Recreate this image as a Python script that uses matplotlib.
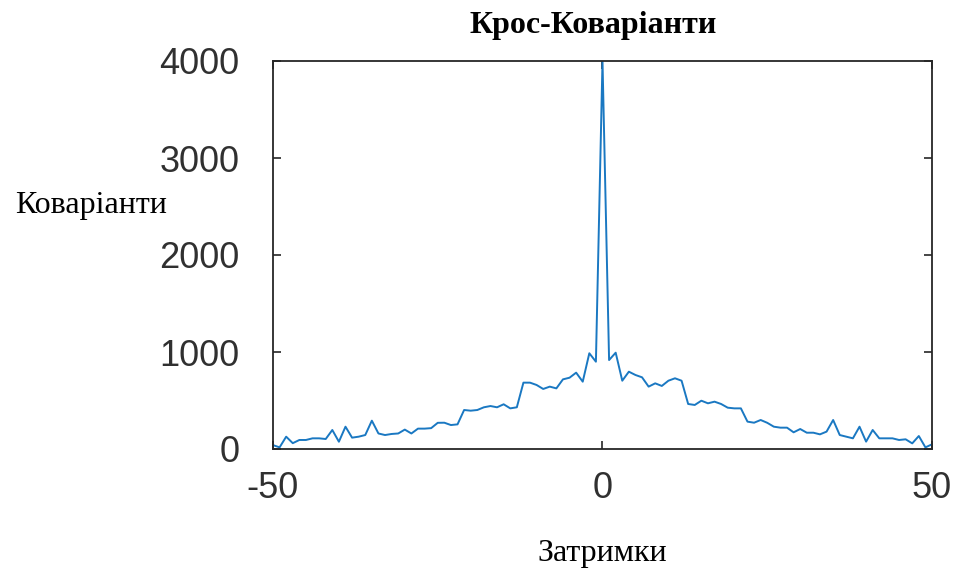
import numpy as np
import matplotlib
matplotlib.use("Agg")
import matplotlib.pyplot as plt

plt.rcParams["axes.unicode_minus"] = False

# lags -50..50 and the cross-covariance values
lags = np.arange(-50, 51)
cov_neg = [40, 17, 127, 60, 93, 93, 110, 110, 103, 196,
           75, 230, 117, 127, 144, 292, 160, 144, 155, 160,
           200, 160, 210, 210, 215, 270, 271, 247, 254, 402,
           395, 402, 430, 443, 430, 461, 419, 430, 684, 684,
           660, 619, 643, 625, 718, 735, 787, 694, 987, 900]
cov_zero = [4000]
cov_pos = [917, 993, 704, 797, 763, 739, 643, 677, 650, 704,
           729, 704, 464, 454, 498, 471, 488, 464, 426, 419,
           419, 282, 271, 299, 270, 230, 220, 220, 172, 206,
           168, 168, 151, 179, 299, 144, 127, 110, 230, 76,
           196, 110, 110, 110, 93, 100, 58, 134, 17, 48]
cov = cov_neg + cov_zero + cov_pos

title = "Крос-Коваріанти"
xlabel = "Затримки"
ylabel = "Коваріанти"

fig = plt.figure(figsize=(9.54, 5.71), dpi=100)
ax = fig.add_axes([273 / 954, 1 - 449 / 571, 659 / 954, 388 / 571])

ax.plot(lags, cov, color="#1a78c2", linewidth=1.4)

ax.set_xlim(-50, 50)
ax.set_ylim(0, 4000)
ax.set_xticks([-50, 0, 50])
ax.set_yticks([0, 1000, 2000, 3000, 4000])

for s in ax.spines.values():
    s.set_color("#262626")
    s.set_linewidth(1.3)

ax.tick_params(direction="in", length=6, width=1.2, color="#262626",
               top=True, right=True, labelcolor="#303030")
ax.tick_params(axis="y", pad=24)
ax.tick_params(axis="x", pad=16)
for lab in ax.get_xticklabels() + ax.get_yticklabels():
    lab.set_fontfamily("Liberation Sans")
    lab.set_fontsize(26)

serif = "Liberation Serif"
fig.text(593 / 954, 1 - 26 / 571, title, ha="center", va="center",
         fontfamily=serif, fontweight="bold", fontsize=23)
fig.text(91 / 954, 1 - 206 / 571, ylabel, ha="center", va="center",
         fontfamily=serif, fontsize=23)
fig.text(602 / 954, 1 - 554 / 571, xlabel, ha="center", va="center",
         fontfamily=serif, fontsize=23)

fig.savefig("out.png", dpi=100)
